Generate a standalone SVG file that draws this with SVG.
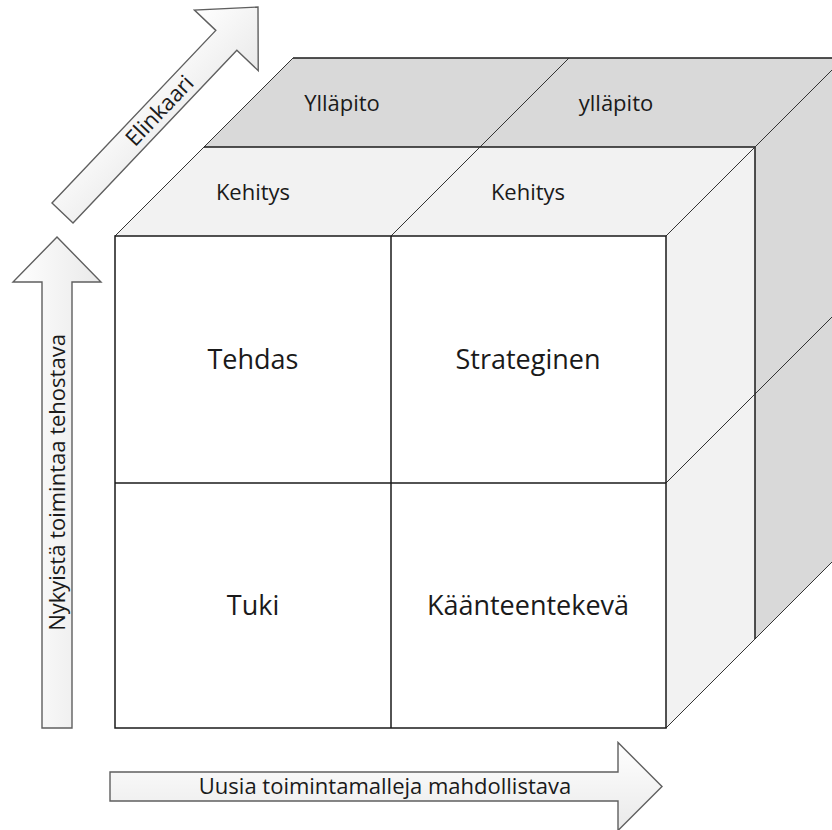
<svg xmlns="http://www.w3.org/2000/svg" width="832" height="830" viewBox="0 0 832 830">
  <defs>
    <style>
      .light { fill: #f2f2f2; }
      .dark { fill: #d9d9d9; }
      .front { fill: #ffffff; }
      .edge { fill: none; stroke: #1a1a1a; stroke-width: 1.5; }
      .diag { fill: none; stroke: #333333; stroke-width: 1; }
      .arrow { stroke: #5f5f5f; stroke-width: 1.4; stroke-linejoin: miter; }
      .lbl { font-family: "Open Sans", "Liberation Sans", sans-serif; fill: #1a1a1a; text-anchor: middle; }
      .big { font-size: 27px; }
      .small { font-size: 22px; }
    </style>
    <linearGradient id="gradAcross" x1="0" y1="0" x2="0" y2="1">
      <stop offset="0" stop-color="#ffffff"/>
      <stop offset="1" stop-color="#e9e9e9"/>
    </linearGradient>
    <linearGradient id="gradSide" x1="0" y1="0" x2="1" y2="0">
      <stop offset="0" stop-color="#ffffff"/>
      <stop offset="1" stop-color="#e9e9e9"/>
    </linearGradient>
  </defs>

  <rect width="832" height="830" fill="#ffffff"/>

  <!-- back layer: maintenance -->
  <g id="back-layer">
    <polygon class="dark" points="204,147 755,147 844,58 293,58"/>
    <polygon class="dark" points="755,147 844,58 844,550 755,639"/>
    <line class="edge" x1="293" y1="58" x2="844" y2="58"/>
    <line class="diag" x1="204" y1="147" x2="293" y2="58"/>
    <line class="diag" x1="480" y1="147" x2="569" y2="58"/>
    <line class="diag" x1="755" y1="147" x2="844" y2="58"/>
    <line class="diag" x1="755" y1="394" x2="844" y2="305"/>
    <line class="diag" x1="755" y1="639" x2="844" y2="550"/>
  </g>
  <g id="yllapito-left">
    <text class="lbl small" x="342" y="111">Ylläpito</text>
  </g>
  <g id="yllapito-right">
    <text class="lbl small" x="616" y="111">ylläpito</text>
  </g>

  <!-- middle layer: development -->
  <g id="middle-layer">
    <polygon class="light" points="115,236 666,236 755,147 204,147"/>
    <polygon class="light" points="666,236 755,147 755,639 666,728"/>
    <line class="edge" x1="204" y1="147" x2="755" y2="147"/>
    <line class="edge" x1="755" y1="147" x2="755" y2="639"/>
    <line class="diag" x1="115" y1="236" x2="204" y2="147"/>
    <line class="diag" x1="391" y1="236" x2="480" y2="147"/>
    <line class="diag" x1="666" y1="236" x2="755" y2="147"/>
    <line class="diag" x1="666" y1="483" x2="755" y2="394"/>
    <line class="diag" x1="666" y1="728" x2="755" y2="639"/>
  </g>
  <g id="kehitys-left">
    <text class="lbl small" x="253" y="200">Kehitys</text>
  </g>
  <g id="kehitys-right">
    <text class="lbl small" x="528" y="200">Kehitys</text>
  </g>

  <!-- front face: four quadrants -->
  <g id="tehdas">
    <rect class="front" x="115" y="236" width="276" height="247"/>
    <text class="lbl big" x="253" y="369">Tehdas</text>
  </g>
  <g id="strateginen">
    <rect class="front" x="391" y="236" width="275" height="247"/>
    <text class="lbl big" x="528" y="369">Strateginen</text>
  </g>
  <g id="tuki">
    <rect class="front" x="115" y="483" width="276" height="245"/>
    <text class="lbl big" x="253" y="615">Tuki</text>
  </g>
  <g id="kaanteentekeva">
    <rect class="front" x="391" y="483" width="275" height="245"/>
    <text class="lbl big" x="528" y="615">Käänteentekevä</text>
  </g>
  <g id="front-grid">
    <rect class="edge" x="115" y="236" width="551" height="492"/>
    <line class="edge" x1="391" y1="236" x2="391" y2="728"/>
    <line class="edge" x1="115" y1="483" x2="666" y2="483"/>
  </g>

  <!-- axis arrows -->
  <g id="axis-elinkaari" transform="translate(62.5,213) rotate(-46.5)">
    <polygon class="arrow" fill="url(#gradAcross)" points="0,-14.5 238,-14.5 238,-44 284,0 238,44 238,14.5 0,14.5"/>
    <text class="lbl small" x="141" y="7.5">Elinkaari</text>
  </g>
  <g id="axis-tehostava">
    <polygon class="arrow" fill="url(#gradSide)" points="57,237 101,282 72,282 72,728 42,728 42,282 13,282"/>
    <text class="lbl small" transform="translate(65,482.5) rotate(-90)" x="0" y="0">Nykyistä toimintaa tehostava</text>
  </g>
  <g id="axis-mahdollistava">
    <polygon class="arrow" fill="url(#gradAcross)" points="110,772 618,772 618,742.5 662,786.5 618,830.5 618,801 110,801"/>
    <text class="lbl small" x="385" y="794">Uusia toimintamalleja mahdollistava</text>
  </g>
</svg>
